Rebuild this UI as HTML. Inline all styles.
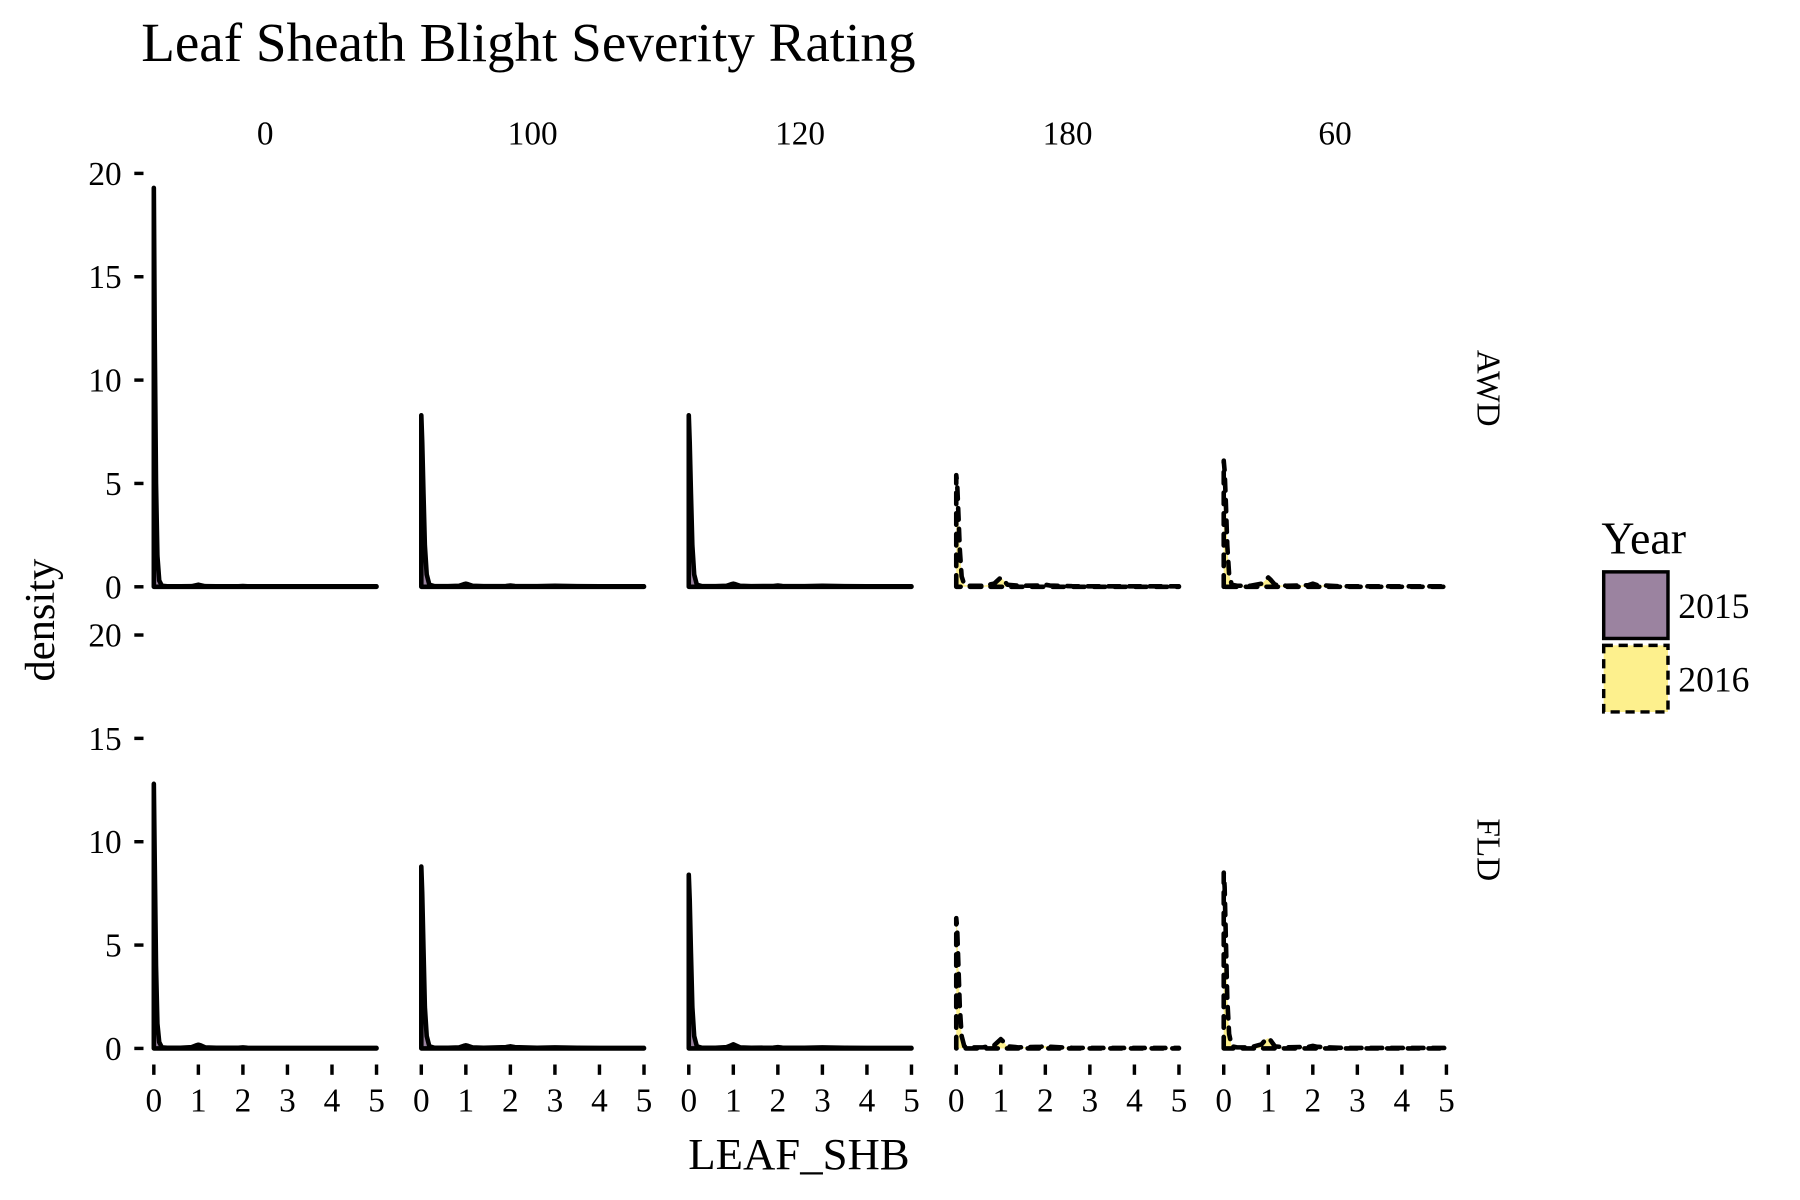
<!DOCTYPE html>
<html><head><meta charset="utf-8"><style>
html,body{margin:0;padding:0;background:#fff}
svg{display:block}
text{font-family:"Liberation Serif",serif;fill:#000}
</style></head><body>
<svg id="chart" width="1800" height="1200" viewBox="0 0 1568 1045" preserveAspectRatio="none" xmlns="http://www.w3.org/2000/svg">
<text x="123" y="53" font-size="48">Leaf Sheath Blight Severity Rating</text>
<text x="696" y="1018" font-size="39" text-anchor="middle">LEAF_SHB</text>
<text transform="translate(47,540) rotate(-90)" font-size="37" text-anchor="middle">density</text>
<g id="panels"></g>
<g>
<text x="1395" y="482" font-size="40">Year</text>
<rect x="1397" y="498" width="56" height="58" fill="#9b83a0" stroke="#000" stroke-width="3"/>
<text x="1462" y="538" font-size="31">2015</text>
<rect x="1397" y="562" width="56" height="58" fill="#fdf08d" stroke="#000" stroke-width="3" stroke-dasharray="8,5"/>
<text x="1462" y="602" font-size="31">2016</text>
</g>
</svg>
<script>
const NS="http://www.w3.org/2000/svg";
const columns=["0","100","120","180","60"];
const rows=["AWD","FLD"];
const xGrid=[0,0.02,0.05,0.08,0.12,0.18,0.3,0.6,0.85,0.95,1.0,1.05,1.15,1.4,1.9,2.0,2.1,2.6,3,3.5,4,4.5,5];
const yearByColumn=["2015","2015","2015","2016","2016"];
const densAWD=[
 [19.3,12,5,1.5,0.3,0.05,0.02,0.02,0.03,0.08,0.1,0.08,0.03,0.02,0.02,0.04,0.02,0.02,0.02,0.02,0.02,0.02,0.02],
 [8.3,7,4.5,2,0.6,0.1,0.03,0.03,0.05,0.12,0.15,0.12,0.05,0.03,0.04,0.06,0.04,0.03,0.05,0.03,0.02,0.02,0.02],
 [8.3,7,4.5,2,0.6,0.1,0.03,0.03,0.05,0.12,0.15,0.12,0.05,0.03,0.04,0.06,0.04,0.03,0.05,0.03,0.02,0.02,0.02],
 [5.4,5.0,3.5,1.8,0.5,0.1,0.05,0.05,0.15,0.35,0.45,0.35,0.1,0.05,0.06,0.1,0.06,0.03,0.02,0.02,0.02,0.02,0.02],
 [6.1,5.6,4,2,0.6,0.1,0.05,0.05,0.15,0.35,0.45,0.35,0.1,0.05,0.08,0.15,0.08,0.03,0.02,0.02,0.02,0.02,0.02]
];
const densFLD=[
 [12.8,9,4,1.2,0.3,0.05,0.03,0.03,0.06,0.15,0.18,0.15,0.05,0.03,0.03,0.05,0.03,0.02,0.02,0.02,0.02,0.02,0.02],
 [8.8,7.5,4.8,2,0.6,0.1,0.03,0.03,0.05,0.12,0.15,0.12,0.05,0.03,0.06,0.1,0.06,0.03,0.05,0.03,0.02,0.02,0.02],
 [8.4,7.2,4.6,2,0.6,0.1,0.03,0.03,0.06,0.15,0.2,0.15,0.05,0.03,0.04,0.06,0.04,0.03,0.05,0.03,0.02,0.02,0.02],
 [6.3,5.8,4,2,0.6,0.1,0.05,0.05,0.15,0.35,0.45,0.35,0.1,0.05,0.08,0.12,0.08,0.03,0.02,0.02,0.02,0.02,0.02],
 [8.5,7.8,5.2,2.4,0.7,0.1,0.05,0.05,0.2,0.45,0.5,0.4,0.1,0.05,0.08,0.12,0.08,0.03,0.02,0.02,0.02,0.02,0.02]
];
const xTicks=[0,1,2,3,4,5];
const yTicks=[0,5,10,15,20];
const densities=[densAWD,densFLD];
const panelX0=[134,367,600,833,1066], xUnit=38.8;
const rowY0=[511,913], yUnit=18;
const g=document.getElementById('panels');
function el(t,a,p){const e=document.createElementNS(NS,t);for(const k in a)e.setAttribute(k,a[k]);(p||g).appendChild(e);return e;}
function sx(c,v){return panelX0[c]+v*xUnit;}
function sy(r,v){return rowY0[r]-v*yUnit;}
columns.forEach((c,i)=>{
 const t=el('text',{x:sx(i,2.5),y:126,'font-size':29,'text-anchor':'middle'});t.textContent=c;
 
 
});
rows.forEach((r,ri)=>{
 const t=el('text',{transform:`translate(1287,${ri==0?338:740}) rotate(90)`,'font-size':29,'text-anchor':'middle'});t.textContent=r;
 
 
 yTicks.forEach(v=>{
  const tk=el('line',{x1:117,x2:125,y1:sy(ri,v),y2:sy(ri,v),stroke:'#000','stroke-width':3});
  
  
  const tl=el('text',{x:106,y:sy(ri,v)+10,'font-size':29,'text-anchor':'end',fill:'#333'});tl.textContent=v;
  
  
 });
 columns.forEach((c,ci)=>{
  const d=densities[ri][ci];
  const is16=yearByColumn[ci]==="2016";
  let p=`M${sx(ci,0)},${sy(ri,0)} `;
  xGrid.forEach((x,k)=>{p+=`L${sx(ci,x).toFixed(1)},${sy(ri,d[k]).toFixed(1)} `;});
  const area=el('path',{d:p+`L${sx(ci,5)},${sy(ri,0)} Z`,fill:is16?'#fdf08d':'#9b83a0',stroke:'none'});
  
  
  const ln=el('path',{d:p+`L${sx(ci,5)},${sy(ri,0)} L${sx(ci,0)},${sy(ri,0)}`,fill:'none',stroke:'#000','stroke-width':4,'stroke-linejoin':'round','stroke-linecap':'round','stroke-dasharray':is16?'10,8':'none'});
  
  
 });
});
columns.forEach((c,ci)=>{
 xTicks.forEach(v=>{
  const tk=el('line',{x1:sx(ci,v),x2:sx(ci,v),y1:927,y2:936,stroke:'#000','stroke-width':3});
  
  
  const tl=el('text',{x:sx(ci,v),y:968,'font-size':29,'text-anchor':'middle',fill:'#333'});tl.textContent=v;
  
  
 });
});
</script>
</body></html>
